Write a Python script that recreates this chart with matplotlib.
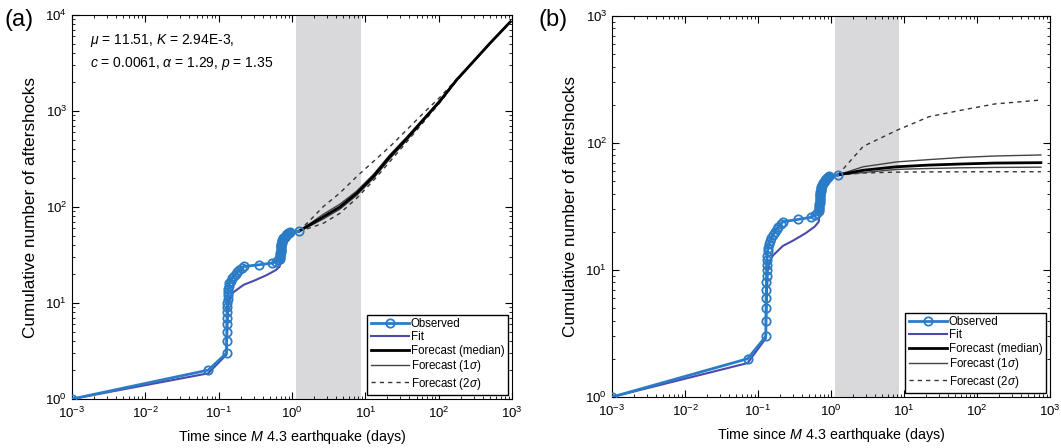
import numpy as np
import matplotlib
matplotlib.use('Agg')
import matplotlib.pyplot as plt

plt.rcParams['font.family'] = ['Liberation Sans', 'DejaVu Sans']
plt.rcParams['mathtext.fontset'] = 'custom'
plt.rcParams['mathtext.rm'] = 'Liberation Sans'
plt.rcParams['mathtext.it'] = 'Liberation Sans:italic'

# observed aftershocks (days, cumulative count)
obs_t = [0.001, 0.072, 0.128, 0.128, 0.129, 0.129, 0.130, 0.130, 0.131, 0.131,
         0.132, 0.133, 0.134, 0.135, 0.137, 0.140, 0.145, 0.152, 0.160, 0.172,
         0.180, 0.190, 0.205, 0.220, 0.350, 0.530, 0.600, 0.650, 0.680, 0.685,
         0.690, 0.692, 0.695, 0.698, 0.700, 0.703, 0.706, 0.709, 0.712, 0.715,
         0.718, 0.720, 0.725, 0.730, 0.740, 0.750, 0.760, 0.780, 0.800, 0.820,
         0.840, 0.860, 0.880, 0.910, 0.950, 1.24]
obs_n = [1, 2, 3, 4, 5, 6, 7, 8, 9, 10,
         11, 12, 13, 14, 15, 16, 17, 18, 19, 20,
         21, 22, 23, 24, 25, 26, 27, 28, 29, 30,
         31, 32, 33, 34, 35, 36, 37, 38, 39, 40,
         41, 42, 43, 44, 45, 46, 47, 48, 49, 50,
         51, 52, 53, 54, 55, 56]

fit_t = [0.001, 0.072, 0.128, 0.132, 0.136, 0.145, 0.16, 0.22, 0.30, 0.45,
         0.60, 0.68, 0.70, 0.72, 0.80, 0.90, 1.24]
fit_n = [1.0, 1.85, 2.9, 6, 10, 11.8, 13, 15.5, 17, 19.5,
         22, 24, 30, 42, 50, 54, 56]

# forecast (a)
fa_t = [1.24, 1.8, 2.67, 4.5, 7.6, 13, 21.6, 37, 61.5, 105, 175, 300, 500, 950]
fa_med = [56, 66, 79, 100, 139, 210, 334, 520, 806, 1280, 2100, 3300, 5070, 8500]
fa_up1 = [56, 68, 84, 107, 146, 220, 350, 540, 830, 1310, 2130, 3330, 5100, 8550]
fa_lo1 = [56, 64, 75, 95, 132, 200, 318, 500, 785, 1250, 2070, 3270, 5040, 8450]
fa_up2 = [56, 74, 101, 140, 207, 300, 425, 640, 946, 1400, 2140, 3310, 5080, 8500]
fa_lo2 = [56, 61, 67.6, 86, 123, 190, 297, 480, 760, 1230, 2060, 3280, 5050, 8500]

# forecast (b)
fb_t = [1.24, 2.76, 8, 22, 63, 176, 750]
fb_med = [56, 61, 65, 67, 68.4, 69.5, 70]
fb_up1 = [56, 65, 71, 74, 77, 79, 80.5]
fb_lo1 = [56, 58.5, 62, 63, 63.8, 64.2, 64.5]
fb_up2 = [56, 94, 126, 161, 182, 203, 218]
fb_lo2 = [56, 58, 59, 59.2, 59.3, 59.4, 59.4]

window = (1.15, 8.6)

blue = '#2a7cc7'
purple = '#4a4aab'
gray = '#d9d9db'

fig = plt.figure(figsize=(10.61, 4.48), dpi=100)
ax1 = fig.add_axes([72 / 1061, 1 - 399 / 448, 440 / 1061, 384 / 448])
ax2 = fig.add_axes([612 / 1061, 1 - 397 / 448, 438 / 1061, 381 / 448])


def draw(ax, ft, med, up1, lo1, up2, lo2, ymax):
    ax.axvspan(window[0], window[1], color=gray, lw=0, zorder=0)
    ax.plot(fit_t, fit_n, color=purple, lw=1.5, zorder=3, label='Fit')
    ax.plot(obs_t, obs_n, color=blue, lw=2, marker='o', ms=6, mfc='none',
            mec=blue, mew=1.3, zorder=4, label='Observed')
    ax.plot(ft, up2, color='#333333', lw=1, ls=(0, (3, 3)), zorder=2, label='Forecast (2$\\sigma$)')
    ax.plot(ft, lo2, color='#333333', lw=1, ls=(0, (3, 3)), zorder=2)
    ax.plot(ft, up1, color='#444444', lw=1, zorder=2, label='Forecast (1$\\sigma$)')
    ax.plot(ft, lo1, color='#444444', lw=1, zorder=2)
    ax.plot(ft, med, color='black', lw=2, zorder=2, label='Forecast (median)')
    ax.set_xscale('log')
    ax.set_yscale('log')
    ax.set_xlim(1e-3, 1e3)
    ax.set_ylim(1, ymax)
    ax.tick_params(which='both', direction='in', top=True, right=True, labelsize=9.5)
    ax.tick_params(which='major', length=5)
    ax.tick_params(which='minor', length=2.5)
    ax.tick_params(axis='x', pad=5)
    ax.set_xlabel('Time since $M$ 4.3 earthquake (days)', fontsize=10.3, labelpad=5)
    ax.set_ylabel('Cumulative number of aftershocks', fontsize=12.3, labelpad=5)
    h, l = ax.get_legend_handles_labels()
    order = [1, 0, 4, 3, 2]
    ax.legend([h[i] for i in order], [l[i] for i in order], loc='lower right',
              fontsize=8.3, frameon=True, fancybox=False, edgecolor='black',
              framealpha=1, borderaxespad=0.35, handlelength=3.3,
              handletextpad=0.2, labelspacing=0.12, borderpad=0.3)


draw(ax1, fa_t, fa_med, fa_up1, fa_lo1, fa_up2, fa_lo2, 1e4)
draw(ax2, fb_t, fb_med, fb_up1, fb_lo1, fb_up2, fb_lo2, 1e3)

ax1.text(0.04, 0.955, '$\\mu$ = 11.51, $K$ = 2.94E-3,\n$c$ = 0.0061, $\\alpha$ = 1.29, $p$ = 1.35',
         transform=ax1.transAxes, fontsize=10, va='top', ha='left', linespacing=1.5)

fig.text(0.004, 0.955, '(a)', fontsize=17, va='center')
fig.text(0.508, 0.955, '(b)', fontsize=17, va='center')

plt.savefig('out.png', dpi=100)
